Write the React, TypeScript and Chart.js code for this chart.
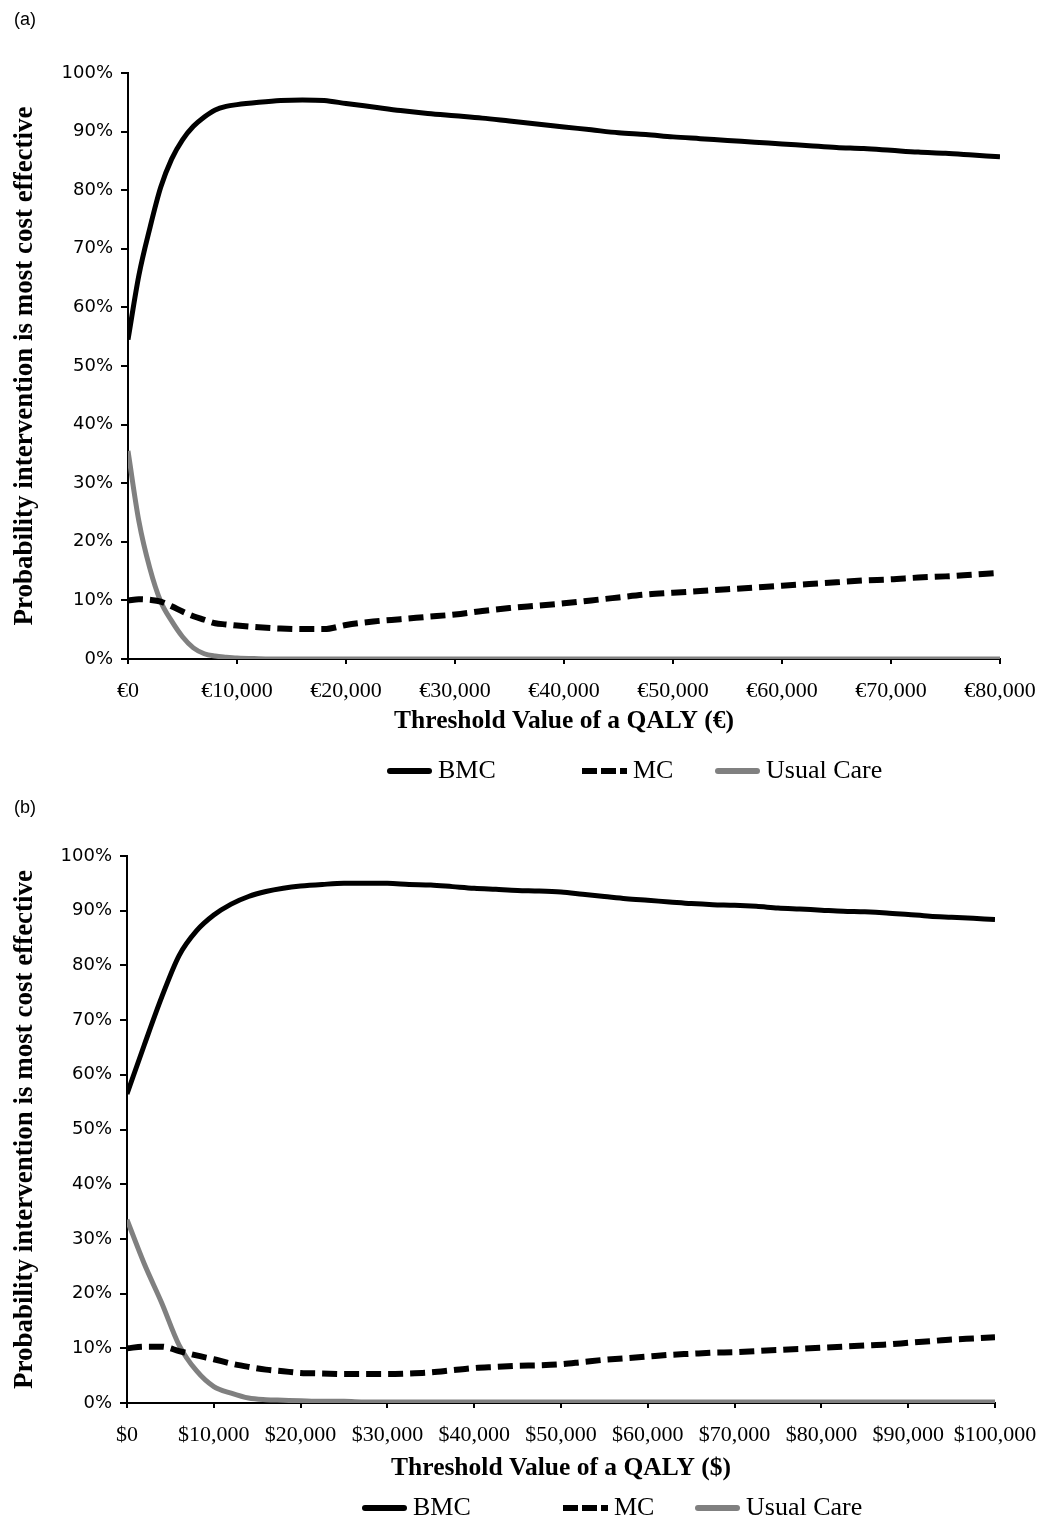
import React, { useEffect, useRef } from 'react';
import { Chart, registerables } from 'chart.js';

Chart.register(...registerables);

// ---------- data: panel (a), euros ----------
const thresholdsEUR = [0, 1000, 2000, 3000, 4000, 5000, 6000, 7000, 8000, 9000, 10000, 12000, 14000, 16000, 18000, 20000, 22500, 25000, 27500, 30000, 32500, 35000, 37500, 40000, 42500, 45000, 47500, 50000, 52500, 55000, 57500, 60000, 62500, 65000, 67500, 70000, 72500, 75000, 77500, 80000];
const bmcEUR = [54.5, 65.5, 73.5, 80.5, 85.3, 88.6, 90.9, 92.5, 93.7, 94.3, 94.6, 95.0, 95.3, 95.4, 95.3, 94.8, 94.2, 93.6, 93.1, 92.7, 92.3, 91.8, 91.3, 90.8, 90.3, 89.8, 89.5, 89.1, 88.8, 88.5, 88.2, 87.9, 87.6, 87.3, 87.1, 86.8, 86.5, 86.3, 86.0, 85.7];
const mcEUR = [10.0, 10.2, 10.1, 9.8, 9.0, 8.1, 7.3, 6.7, 6.1, 5.9, 5.7, 5.4, 5.2, 5.1, 5.1, 5.8, 6.4, 6.8, 7.2, 7.6, 8.2, 8.7, 9.1, 9.5, 10.0, 10.5, 11.0, 11.3, 11.6, 11.9, 12.2, 12.5, 12.8, 13.1, 13.4, 13.6, 13.9, 14.1, 14.4, 14.7];
const usualCareEUR = [35.5, 23.5, 15.5, 9.8, 6.5, 3.8, 1.9, 0.9, 0.5, 0.3, 0.15, 0.05, 0, 0, 0, 0, 0, 0, 0, 0, 0, 0, 0, 0, 0, 0, 0, 0, 0, 0, 0, 0, 0, 0, 0, 0, 0, 0, 0, 0];

// ---------- data: panel (b), dollars ----------
const thresholdsUSD = [0, 2000, 4000, 6000, 8000, 10000, 12000, 14000, 16000, 18000, 20000, 22500, 25000, 27500, 30000, 32500, 35000, 37500, 40000, 42500, 45000, 47500, 50000, 52500, 55000, 57500, 60000, 62500, 65000, 67500, 70000, 72500, 75000, 77500, 80000, 82500, 85000, 87500, 90000, 92500, 95000, 97500, 100000];
const bmcUSD = [56.5, 65.5, 74.2, 81.8, 86.3, 89.2, 91.2, 92.6, 93.5, 94.1, 94.5, 94.8, 95.0, 95.0, 95.0, 94.8, 94.7, 94.4, 94.1, 93.9, 93.7, 93.6, 93.4, 93.0, 92.6, 92.2, 91.9, 91.6, 91.3, 91.1, 91.0, 90.8, 90.5, 90.3, 90.1, 89.9, 89.8, 89.6, 89.3, 89.0, 88.8, 88.6, 88.4];
const mcUSD = [10.0, 10.3, 10.3, 9.5, 8.7, 8.0, 7.2, 6.6, 6.1, 5.8, 5.5, 5.4, 5.3, 5.3, 5.3, 5.4, 5.6, 6.0, 6.4, 6.6, 6.8, 6.9, 7.1, 7.5, 7.9, 8.2, 8.5, 8.8, 9.0, 9.2, 9.3, 9.5, 9.7, 9.9, 10.1, 10.3, 10.5, 10.7, 11.0, 11.3, 11.6, 11.8, 12.0];
const usualCareUSD = [33.5, 25.4, 18.3, 10.6, 5.9, 3.0, 1.8, 0.9, 0.6, 0.5, 0.4, 0.3, 0.3, 0.2, 0.2, 0.2, 0.2, 0.2, 0.2, 0.2, 0.2, 0.2, 0.2, 0.2, 0.2, 0.2, 0.2, 0.2, 0.2, 0.2, 0.2, 0.2, 0.2, 0.2, 0.2, 0.2, 0.2, 0.2, 0.2, 0.2, 0.2, 0.2, 0.2];

const seriesLabels = ['BMC', 'MC', 'Usual Care'];
const yAxisTitle = 'Probability intervention is most cost effective';
const xTitleEUR = 'Threshold Value of a QALY (€)';
const xTitleUSD = 'Threshold Value of a QALY ($)';

const SERIF = '"Liberation Serif", "Times New Roman", serif';
const SANS_TICK = '"DejaVu Sans", Verdana, sans-serif';

const sheetLegend = {
  id: 'sheetLegend',
  afterDraw(chart: any, _args: any, opts: any) {
    const ctx = chart.ctx;
    const y = opts.y;
    chart.data.datasets.forEach((ds: any, i: number) => {
      const x = opts.xs[i];
      ctx.save();
      ctx.strokeStyle = ds.borderColor;
      ctx.lineWidth = opts.lineWidth;
      const dashed = ds.borderDash && ds.borderDash.length;
      ctx.lineCap = dashed ? 'butt' : 'round';
      ctx.setLineDash(dashed ? opts.dash : []);
      ctx.beginPath();
      if (dashed) {
        ctx.moveTo(x, y);
        ctx.lineTo(x + opts.sample, y);
      } else {
        ctx.moveTo(x + opts.lineWidth / 2, y);
        ctx.lineTo(x + opts.sample - opts.lineWidth / 2, y);
      }
      ctx.stroke();
      ctx.setLineDash([]);
      ctx.fillStyle = '#000';
      ctx.font = opts.font;
      ctx.textAlign = 'left';
      ctx.textBaseline = 'middle';
      ctx.fillText(ds.label, x + opts.sample + opts.gap, y);
      ctx.restore();
    });
  },
};

function pts(xs: number[], ys: number[]) {
  return xs.map((x, i) => ({ x, y: ys[i] }));
}

type PanelParams = {
  xs: number[];
  bmc: number[];
  mc: number[];
  uc: number[];
  currency: string;
  xMax: number;
  xTitle: string;
  padTop: number;
  padRight: number;
  yWidth: number;
  xHeight: number;
  xTitleBottom: number;
  legendXs: number[];
  legendY: number;
};

function makeConfig(p: PanelParams): any {
  const line = {
    pointRadius: 0,
    pointHoverRadius: 0,
    fill: false,
    cubicInterpolationMode: 'monotone',
    borderCapStyle: 'butt',
    borderJoinStyle: 'round',
  };
  return {
    type: 'line',
    data: {
      datasets: [
        { ...line, label: seriesLabels[0], data: pts(p.xs, p.bmc), borderColor: '#000000', borderWidth: 5 },
        { ...line, label: seriesLabels[1], data: pts(p.xs, p.mc), borderColor: '#000000', borderWidth: 6, borderDash: [15, 7] },
        { ...line, label: seriesLabels[2], data: pts(p.xs, p.uc), borderColor: '#808080', borderWidth: 5 },
      ],
    },
    options: {
      responsive: false,
      animation: false,
      devicePixelRatio: 1,
      layout: { padding: { top: p.padTop, right: p.padRight, left: 0, bottom: 0 } },
      plugins: {
        legend: { display: false },
        tooltip: { enabled: false },
        sheetLegend: {
          xs: p.legendXs,
          y: p.legendY,
          sample: 45,
          gap: 6,
          lineWidth: 6,
          dash: [15, 4],
          font: `26px ${SERIF}`,
        },
      },
      scales: {
        x: {
          type: 'linear',
          min: 0,
          max: p.xMax,
          afterFit: (s: any) => {
            s.height = p.xHeight;
          },
          ticks: {
            stepSize: 10000,
            autoSkip: false,
            maxRotation: 0,
            minRotation: 0,
            padding: 14.5,
            color: '#000',
            font: { family: SERIF, size: 22 },
            callback: (v: any) => p.currency + Number(v).toLocaleString('en-US'),
          },
          grid: { drawOnChartArea: false, drawTicks: true, tickLength: 5, color: '#000', lineWidth: 2 },
          border: { display: true, color: '#000', width: 2 },
          title: {
            display: true,
            text: p.xTitle,
            color: '#000',
            font: { family: SERIF, size: 25.5, weight: 'bold' },
            padding: { top: 0, bottom: p.xTitleBottom },
          },
        },
        y: {
          min: 0,
          max: 100,
          afterFit: (s: any) => {
            s.width = p.yWidth;
          },
          ticks: {
            stepSize: 10,
            padding: 8,
            color: '#000',
            font: { family: SANS_TICK, size: 18 },
            callback: (v: any) => v + '%',
          },
          grid: { drawOnChartArea: false, drawTicks: true, tickLength: 7, color: '#000', lineWidth: 2 },
          border: { display: true, color: '#000', width: 2 },
          title: {
            display: true,
            text: yAxisTitle,
            color: '#000',
            font: { family: SERIF, size: 27, weight: 'bold' },
            padding: { top: 9, bottom: 0 },
          },
        },
      },
    },
    plugins: [sheetLegend],
  };
}

function Panel({ params, width, height }: { params: PanelParams; width: number; height: number }) {
  const ref = useRef<HTMLCanvasElement>(null);
  useEffect(() => {
    const chart = new Chart(ref.current as HTMLCanvasElement, makeConfig(params));
    return () => chart.destroy();
  }, []);
  return <canvas ref={ref} width={width} height={height} style={{ display: 'block', width, height }} />;
}

const CANVAS_W = 1062;

const panelA: PanelParams = {
  xs: thresholdsEUR,
  bmc: bmcEUR,
  mc: mcEUR,
  uc: usualCareEUR,
  currency: '€',
  xMax: 80000,
  xTitle: xTitleEUR,
  padTop: 73,
  padRight: 62,
  yWidth: 128,
  xHeight: 131,
  xTitleBottom: 53,
  legendXs: [387, 582, 715],
  legendY: 771,
};

const panelB: PanelParams = {
  xs: thresholdsUSD,
  bmc: bmcUSD,
  mc: mcUSD,
  uc: usualCareUSD,
  currency: '$',
  xMax: 100000,
  xTitle: xTitleUSD,
  padTop: 66,
  padRight: 67,
  yWidth: 127,
  xHeight: 121,
  xTitleBottom: 40,
  legendXs: [362, 563, 695],
  legendY: 718,
};

export default function App() {
  const labelStyle: React.CSSProperties = {
    position: 'absolute',
    left: 14,
    fontFamily: '"Liberation Sans", Arial, sans-serif',
    fontSize: 18,
    lineHeight: '18px',
    color: '#000',
  };
  return (
    <div style={{ position: 'relative', width: 1042, height: 1524, background: '#fff', overflow: 'hidden' }}>
      <style>{'body{margin:0;background:#fff;overflow:hidden;}'}</style>
      <div style={{ position: 'absolute', left: 0, top: 0 }}>
        <Panel params={panelA} width={CANVAS_W} height={790} />
      </div>
      <div style={{ position: 'absolute', left: 0, top: 790 }}>
        <Panel params={panelB} width={CANVAS_W} height={734} />
      </div>
      <div style={{ ...labelStyle, top: 10 }}>(a)</div>
      <div style={{ ...labelStyle, top: 798 }}>(b)</div>
    </div>
  );
}
